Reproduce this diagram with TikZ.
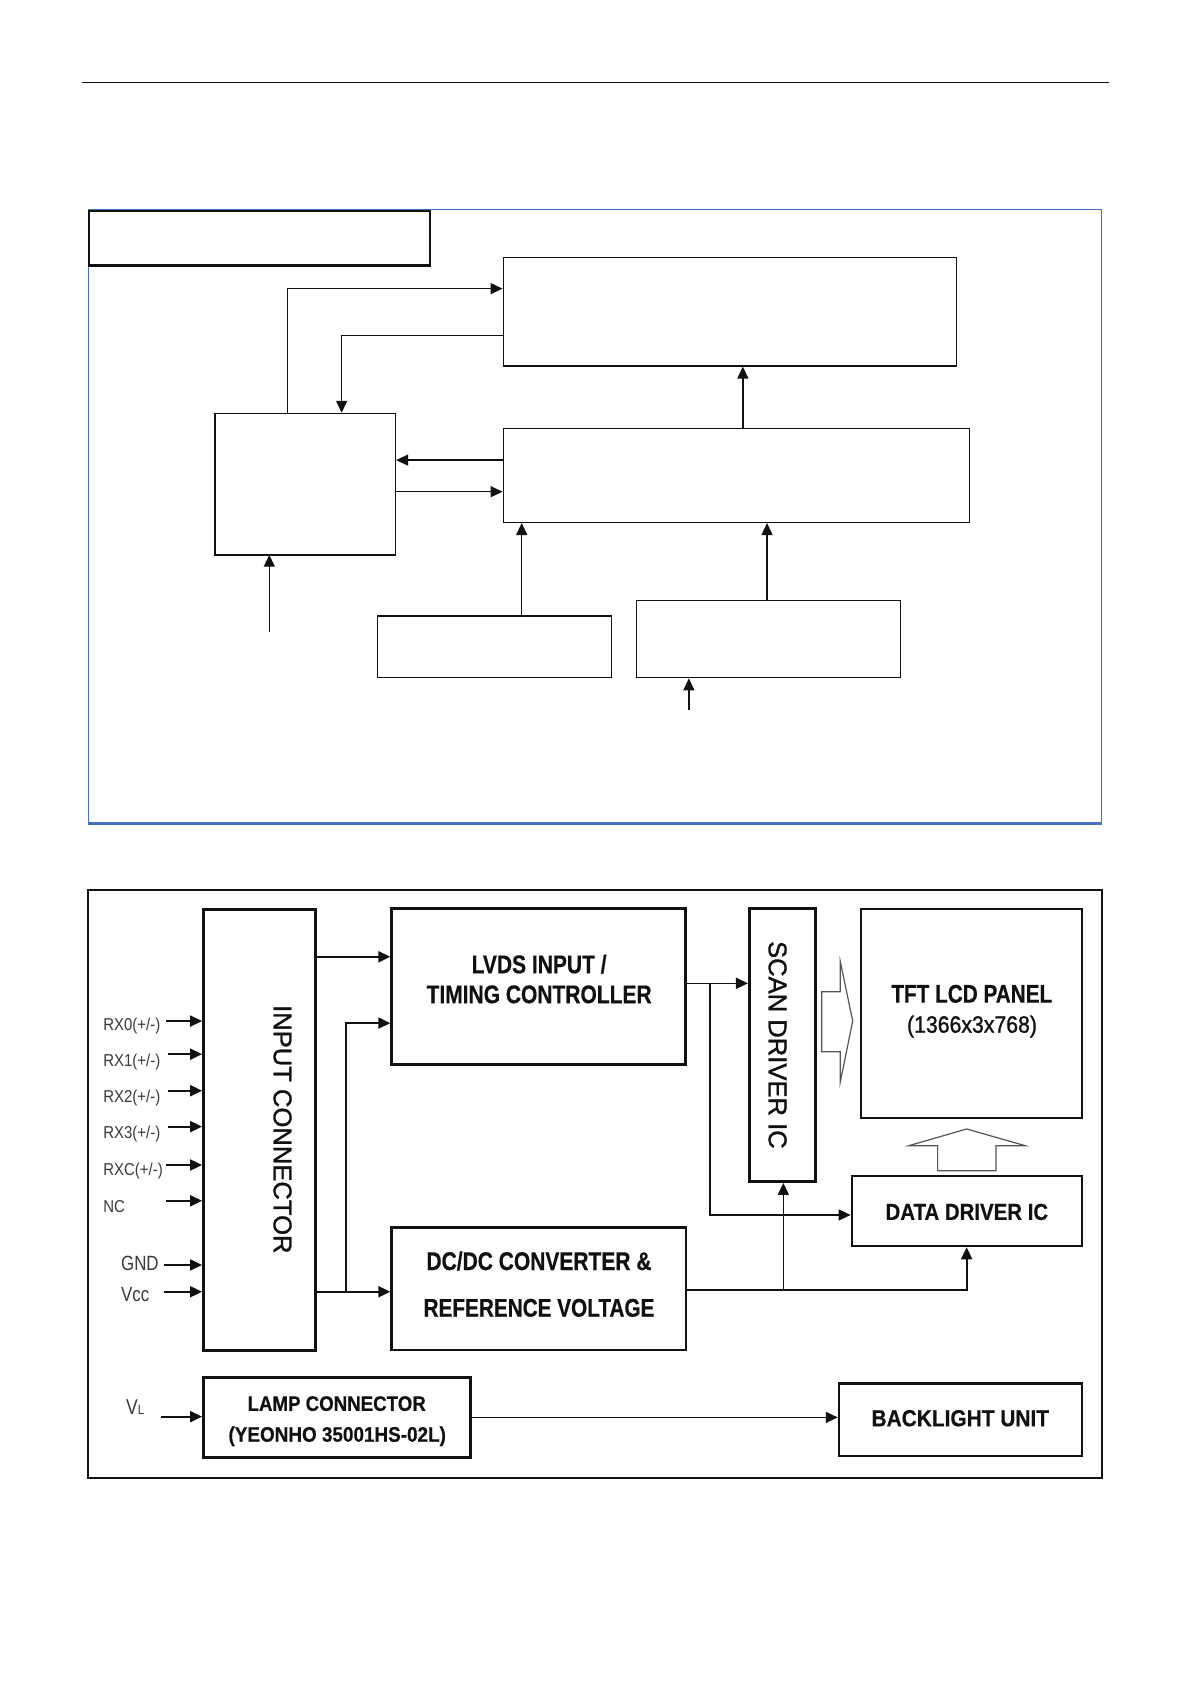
\documentclass[tikz,border=0pt]{standalone}
\usepackage{fontspec}
\usepackage{graphicx}
\setmainfont{Liberation Sans}
\newfontfamily\medfont[FakeBold=1.2]{Liberation Sans}
\newfontfamily\heavyfont[FakeBold=0.5]{Liberation Sans}
\usetikzlibrary{fit,arrows.meta}
\definecolor{lbl}{HTML}{3A3A3A}
\definecolor{frameblue}{HTML}{4A72C4}
\definecolor{hollowgray}{HTML}{555555}
\definecolor{ink}{HTML}{111111}
\newcommand\bt[3]{\fontsize{#1}{#1}\selectfont\heavyfont\bfseries\scalebox{#2}[1]{#3}}
\newcommand\mt[3]{\fontsize{#1}{#1}\selectfont\medfont\scalebox{#2}[1]{#3}}
\newcommand\lt[3]{\fontsize{#1}{#1}\selectfont\scalebox{#2}[1]{#3}}
\begin{document}
\begin{tikzpicture}[x=0.5375pt,y=-0.5375pt,
  >={Triangle[length=6pt,width=5.5pt]},
  tbox/.style={draw=ink,inner sep=0pt,line width=0.55pt},
  bbox/.style={draw=ink,inner sep=0pt,line width=1.3pt},
  ctop/.style={draw=ink,line width=0.7pt},
  cthick/.style={draw=ink,line width=1pt},
  cthin/.style={draw=ink,line width=0.75pt},
  hollow/.style={draw=hollowgray,line width=0.6pt,line join=miter},
  btxt/.style={inner sep=0pt,text=ink,anchor=base},
  lab/.style={inner sep=0pt,text=lbl,anchor=base west},
  rtxt/.style={inner sep=0pt,text=ink,rotate=-90}]
\useasboundingbox (0,0) rectangle (1108,1566.5);
\fill[white] (0,0) rectangle (1108,1566.5);

% header rule
\draw[line width=0.6pt,ink] (76,77) -- (1032,77);

% ---------------- top (empty) diagram ----------------
\draw[frameblue,line width=0.6pt] (82,195) rectangle (1025,766);
\draw[frameblue,line width=1.2pt] (82,766) -- (1025,766);

\node[draw=ink,inner sep=0pt,line width=0.9pt,fit={(82.5,196) (400,246.5)}] (tl) {};
\draw[ink,line width=1.3pt] (tl.south west) -- (tl.south east);
\node[tbox,fit={(468,239.5) (890,340.5)}] (A) {};
\node[tbox,fit={(468,399) (902,486)}] (B) {};
\node[tbox,fit={(200,384.5) (368,515.5)}] (C) {};
\draw[ink,line width=1pt] (C.south west) -- (C.south east);
\node[tbox,fit={(351,573) (569,630.5)}] (D) {};
\node[tbox,fit={(592,558.5) (837.5,630.5)}] (E) {};

\draw[ctop,->] (267.3,0 |- C.north) |- (A.west |- 0,268.5);
\draw[ctop,->] (A.west |- 0,312.2) -| (317.8,0 |- C.north);
\draw[ctop,->] (B.west |- 0,428) -- (C.east |- 0,428);
\draw[ctop,->] (C.east |- 0,457.4) -- (B.west |- 0,457.4);
\draw[ctop,->] (691,0 |- B.north) -- (691,0 |- A.south);
\draw[ctop,->] (485.3,0 |- D.north) -- (485.3,0 |- B.south);
\draw[ctop,->] (713.5,0 |- E.north) -- (713.5,0 |- B.south);
\coordinate (cin) at (250.5,588.2);
\draw[ctop,->] (cin) -- (cin |- C.south);
\coordinate (ein) at (640.8,660.2);
\draw[ctop,->] (ein) -- (ein |- E.south);

% ---------------- bottom block diagram ----------------
\node[draw=ink,inner sep=0pt,line width=1pt,fit={(81.5,827.5) (1025,1375)}] (outer) {};

\node[bbox,fit={(189.2,846) (293.3,1256)}] (ic) {};
\node[bbox,fit={(364.3,845) (637.8,990)}] (lvds) {};
\node[bbox,fit={(364.3,1142) (638.1,1255.8)}] (dcdc) {};
\node[bbox,fit={(697,845) (758.8,1099.2)}] (scan) {};
\node[bbox,fit={(801,845.5) (1006.5,1040)}] (tft) {};
\node[bbox,fit={(792.5,1094) (1006.5,1159)}] (data) {};
\node[bbox,fit={(189.2,1281.5) (437.8,1356)}] (lamp) {};
\node[bbox,fit={(780.5,1287) (1006.5,1354.5)}] (back) {};

% texts in boxes
\node[rtxt] (icT) at (262.8,1050.5) {\mt{12.8}{1}{INPUT CONNECTOR}};
\node[rtxt] (scanT) at (723.3,972) {\mt{12.8}{1}{SCAN DRIVER IC}};
\node[btxt] (lvdsT1) at (501.5,905.3) {\bt{12.8}{0.82}{LVDS INPUT /}};
\node[btxt] (lvdsT2) at (501.5,933.2) {\bt{12.8}{0.82}{TIMING CONTROLLER}};
\node[btxt] (dcT1) at (501.4,1181.4) {\bt{12.8}{0.82}{DC/DC CONVERTER \&}};
\node[btxt] (dcT2) at (501.4,1224.8) {\bt{12.8}{0.81}{REFERENCE VOLTAGE}};
\node[btxt] (tftT1) at (904,932.7) {\bt{12.8}{0.81}{TFT LCD PANEL}};
\node[btxt] (tftT2) at (904.2,960.6) {\mt{11.8}{0.9}{(1366x3x768)}};
\node[btxt] (dataT) at (899.4,1134.8) {\bt{11.6}{0.88}{DATA DRIVER IC}};
\node[btxt] (backT) at (893.3,1326.7) {\bt{11.6}{0.9}{BACKLIGHT UNIT}};
\node[btxt] (lampT1) at (313.2,1312.4) {\bt{10.5}{0.89}{LAMP CONNECTOR}};
\node[btxt] (lampT2) at (313.7,1341.1) {\bt{10.5}{0.9}{(YEONHO 35001HS-02L)}};

% input labels
\node[lab] (lrx0) at (95.8,958.7) {\lt{8.6}{0.87}{RX0(+/-)}};
\node[lab] (lrx1) at (95.8,991.7) {\lt{8.6}{0.87}{RX1(+/-)}};
\node[lab] (lrx2) at (95.8,1025.1) {\lt{8.6}{0.87}{RX2(+/-)}};
\node[lab] (lrx3) at (95.8,1059.5) {\lt{8.6}{0.87}{RX3(+/-)}};
\node[lab] (lrxc) at (95.8,1093.2) {\lt{8.6}{0.87}{RXC(+/-)}};
\node[lab] (lnc) at (95.8,1127.7) {\lt{8.6}{0.87}{NC}};
\node[lab] (lgnd) at (112.3,1181.9) {\lt{10.3}{0.82}{GND}};
\node[lab] (lvcc) at (112.3,1210.7) {\lt{10.3}{0.82}{Vcc}};
\node[lab] (lvl) at (117,1316.1) {\lt{10.7}{0.82}{V}\lt{6.8}{0.85}{L}};

% input arrows
\coordinate (rx0) at (154.4,949.8);
\coordinate (rx1) at (156,980.6);
\coordinate (rx2) at (156,1014.6);
\coordinate (rx3) at (156,1048);
\coordinate (rxc) at (154.4,1083.7);
\coordinate (nc) at (154.4,1117);
\coordinate (gnd) at (152.6,1176.7);
\coordinate (vcc) at (152.6,1201.6);
\coordinate (vl) at (149.8,1317.8);
\foreach \p in {rx0,rx1,rx2,rx3,rxc,nc,gnd,vcc}
  \draw[cthick,->] (\p) -- (\p -| ic.west);
\draw[cthick,->] (vl) -- (vl -| lamp.west);

% connectors
\draw[cthick,->] (ic.east |- 0,890) -- (lvds.west |- 0,890);
\draw[cthick,->] (ic.east |- 0,1201.6) -- (dcdc.west |- 0,1201.6);
\coordinate (j1) at (321.5,1201.6);
\draw[cthick,->] (j1) |- (lvds.west |- 0,951.7);
\draw[cthin,->] (lvds.east |- 0,914.7) -- (scan.west |- 0,914.7);
\coordinate (j2) at (660.5,914.7);
\draw[cthin,->] (j2) |- (data.west |- 0,1130.2);
\draw[cthick,->] (dcdc.east |- 0,1200) -| (899.2,0 |- data.south);
\coordinate (j3) at (728.7,1200);
\draw[cthin,->] (j3) -- (j3 |- scan.south);
\draw[cthin,->] (lamp.east |- 0,1318.5) -- (back.west |- 0,1318.5);

% hollow arrows
\draw[hollow] (764.4,922.5) -- (781.7,922.5) -- (781.7,894.6) -- (793.2,949.8)
  -- (781.7,1006.2) -- (781.7,978.3) -- (764.4,978.3) -- cycle;
\draw[hollow] (872.2,1089) -- (872.2,1065.7) -- (845.6,1065.7) -- (899.2,1050.2)
  -- (953.5,1065.7) -- (926.5,1065.7) -- (926.5,1089) -- cycle;
\end{tikzpicture}
\end{document}
